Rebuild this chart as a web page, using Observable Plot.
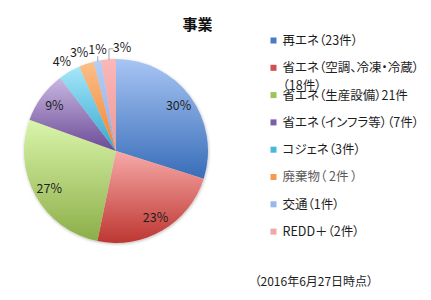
<!DOCTYPE html>
<html><head><meta charset="utf-8">
<script src="https://cdn.jsdelivr.net/npm/d3@7"></script>
<script src="https://cdn.jsdelivr.net/npm/@observablehq/plot@0.6"></script>
<style>
body{margin:0;background:#fff;}
#chart svg{display:block;}
#chart svg text{font-feature-settings:"palt";}
</style>
</head><body><div id="chart"></div>
<script>
// ---- data ----
const title = "事業";
const categories = [
  "再エネ（23件）",
  "省エネ（空調、冷凍・冷蔵）\n（18件）",
  "省エネ（生産設備）21件",
  "省エネ（インフラ等）（7件）",
  "コジェネ（3件）",
  "廃棄物（ 2件 ）",
  "交通（1件）",
  "REDD＋（2件）"
];
const counts = [23, 18, 21, 7, 3, 2, 1, 2];
const caption = "（2016年6月27日時点）";

// ---- styles ----
const gradTop    = ["#a8c5f4","#f7aaa8","#daf5ab","#c9b7e2","#a6e6f9","#fcbf88","#b6cef5","#f9b8b8"];
const gradBottom = ["#386db8","#bd3631","#8cae48","#6b4a96","#33a8cf","#ef8331","#89ade8","#ee9898"];
const swatch     = ["#4a7cc6","#d05050","#9bc55a","#7d5ea8","#4ab8dc","#f59a50","#9ab8ec","#f0a8a8"];

// ---- layout ----
const W = 431, H = 300;
const cx = 116, cy = 151, R = 92, inR = 77, outR = 104;
const smallLimit = 0.05;
const labelNudgeX = [0,0,0,0,-2,-4,2,14];
const legendX = 273, legendTextX = 282, legendY0 = 40, legendStep = 27.3;

const total = d3.sum(counts);
const arcs = d3.pie().sort(null).value(d => d)(counts).map((a, i) => {
  const frac = counts[i] / total;
  const mid = (a.startAngle + a.endAngle) / 2;
  const small = frac < smallLimit;
  const r = small ? outR : inR;
  const lx = cx + r * Math.sin(mid) + labelNudgeX[i];
  const ly = cy - r * Math.cos(mid);
  return {...a, i, frac, mid, small, lx, ly, label: Math.round(frac * 100) + "%"};
});

// leader lines for labels sitting far from their slice
const leaders = [];
arcs.forEach(a => {
  if (!a.small) return;
  const ex = cx + (R + 0.5) * Math.sin(a.mid), ey = cy - (R + 0.5) * Math.cos(a.mid);
  if (a.frac < 0.02) {
    leaders.push({k: a.i, x: ex, y: ey}, {k: a.i, x: ex, y: a.ly + 7});
  } else if (Math.abs(a.lx - ex) > 8) {
    leaders.push({k: a.i, x: ex, y: ey}, {k: a.i, x: ex, y: a.ly + 1}, {k: a.i, x: a.lx - 9, y: a.ly + 1});
  }
});

const legend = categories.map((c, i) => ({c, i, y: legendY0 + i * legendStep}));

const pieMark = (index, scales) => {
  const g = d3.create("svg:g");
  const defs = g.append("defs");
  const f = defs.append("filter").attr("id", "pshadow").attr("x", "-10%").attr("y", "-10%").attr("width", "120%").attr("height", "120%");
  f.append("feDropShadow").attr("dx", 0.5).attr("dy", 1).attr("stdDeviation", 1.6).attr("flood-color", "#000").attr("flood-opacity", 0.28);
  arcs.forEach(a => {
    const lg = defs.append("linearGradient").attr("id", "sg" + a.i).attr("x1", 0).attr("y1", 0).attr("x2", 0).attr("y2", 1);
    lg.append("stop").attr("offset", "0%").attr("stop-color", gradTop[a.i]);
    lg.append("stop").attr("offset", "100%").attr("stop-color", gradBottom[a.i]);
  });
  const arc = d3.arc().innerRadius(0).outerRadius(scales.x(cx + R) - scales.x(cx));
  const pg = g.append("g").attr("transform", `translate(${scales.x(cx)},${scales.y(cy)})`).attr("filter", "url(#pshadow)");
  pg.selectAll("path").data(arcs).join("path")
    .attr("d", arc)
    .attr("fill", d => `url(#sg${d.i})`);
  return g.node();
};

const chart = Plot.plot({
  width: W, height: H,
  margin: 0,
  x: {domain: [0, W], range: [0, W], axis: null},
  y: {domain: [0, H], range: [0, H], axis: null},
  style: {fontFamily: "'Noto Sans CJK JP', 'Noto Sans', sans-serif", background: "#fff"},
  marks: [
    pieMark,
    Plot.line(leaders, {x: "x", y: "y", z: "k", stroke: "#8a8a8a", strokeWidth: 0.8}),
    Plot.text(arcs, {x: "lx", y: "ly", text: "label", fontSize: 12.5, fill: "#1e1e1e"}),
    Plot.text([title], {x: () => 197, y: () => 25, text: d => d, fontSize: 15, fontWeight: "bold", fill: "#111"}),
    Plot.dot(legend, {x: () => legendX, y: "y", symbol: "square", r: 3.4, fill: d => swatch[d.i], stroke: null}),
    Plot.text(legend, {x: () => legendTextX, y: "y", text: "c", textAnchor: "start", lineAnchor: "top", dy: -8, lineHeight: 1.4,
      fontSize: 12.5, fill: d => d.i === 5 ? "#5a5a5a" : "#1e1e1e"}),
    Plot.text([caption], {x: () => 254, y: () => 282, text: d => d, textAnchor: "start", fontSize: 12, fill: "#1e1e1e"})
  ]
});
document.getElementById("chart").append(chart);
</script>
</body></html>
